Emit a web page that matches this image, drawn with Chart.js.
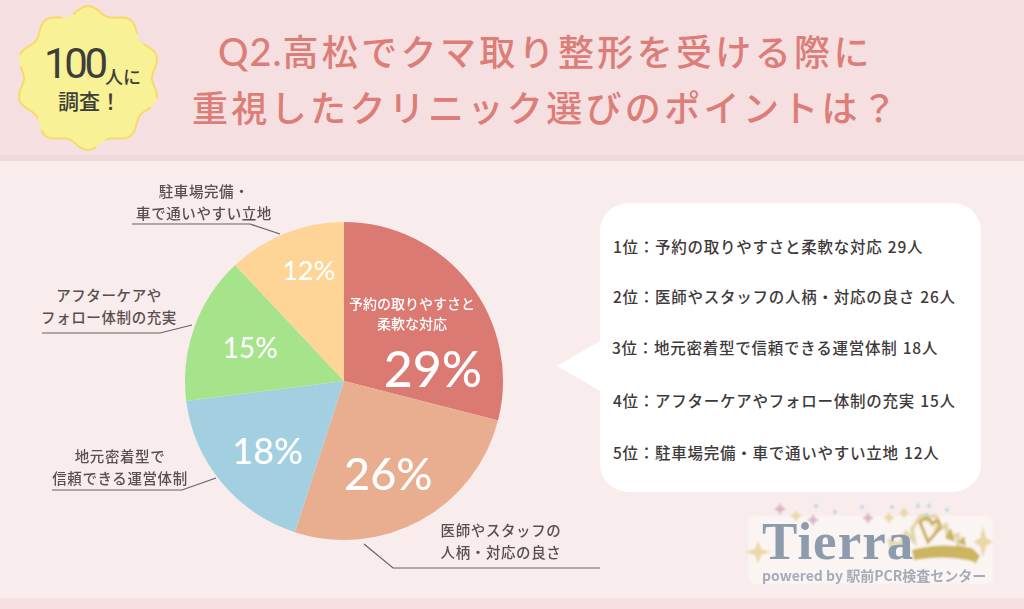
<!DOCTYPE html>
<html lang="ja">
<head>
<meta charset="utf-8">
<script src="https://cdn.jsdelivr.net/npm/chart.js@4"></script>
<style>
  html, body { margin: 0; padding: 0; }
  body { width: 1024px; height: 609px; position: relative; overflow: hidden; background: #f8ecec;
    font-family: "Noto Sans CJK JP", "Noto Sans", sans-serif; color: #5a4f4f; }
  .abs { position: absolute; }
  #header { left: 0; top: 0; width: 1024px; height: 155px; background: #f5dfe0; border-bottom: 6px solid #efd9da; }
  #footer { left: 0; top: 598px; width: 1024px; height: 11px; background: #f5dfe0; }
  .title { color: #dc7d78; font-size: 36px; font-weight: 500; letter-spacing: 3.35px; white-space: nowrap; line-height: 1; }
  .title span { letter-spacing: 1px; font-family: "Lato", sans-serif; font-size: 38px; }
  #chartWrap { left: 184px; top: 221px; width: 320px; height: 320px; }
  #bubble { left: 600px; top: 203px; width: 381px; height: 289px; background: #fff; border-radius: 28px; }
  .rank { color: #3f3a3a; font-size: 15.5px; font-weight: 500; white-space: nowrap; line-height: 1; letter-spacing: 0.75px; word-spacing: 1px; }
  .note { font-size: 14.5px; font-weight: 500; line-height: 21.5px; text-align: center; white-space: nowrap; color: #5a4f4f; transform: translateX(-50%); letter-spacing: 0.6px; }
</style>
</head>
<body>
<div id="header" class="abs"></div>
<div id="footer" class="abs"></div>

<svg class="abs" style="left:0;top:0" width="1024" height="609" id="deco">
  <defs><filter id="soft"><feGaussianBlur stdDeviation="0.8"/></filter></defs>
  <path id="badgeFill" fill="#f8f195"/>
  <path id="badgeLine" fill="none" stroke="#f6da6b" stroke-width="2" stroke-dasharray="62 12"/>
  <polygon points="557,366 602,340 602,392" fill="#fff"/>
  <g fill="none" stroke="#6b6060" stroke-width="1.2">
    <polyline points="132,224 250,224 280,234"/>
    <polyline points="42,333 160,333 192,325"/>
    <polyline points="52,490 182,490 216,478"/>
    <polyline points="364,544 393,568 600,568"/>
  </g>
  <g filter="url(#soft)">
    <rect x="748" y="516" width="245" height="68" rx="6" fill="#faf5f3"/>
    <path d="M758 540 l3 9 l10 3 l-10 3 l-3 9 l-3 -9 l-10 -3 l10 -3z" fill="#ecd8a4"/>
    <path d="M983 526 l3 12 l7 4 l-7 4 l-3 12 l-3 -12 l-7 -4 l7 -4z" fill="#ead7a6"/>
    <path d="M893 553 l-3 -12 l10 4 l6 -12 l8 8 l-2 -12 l8 -12 q8 -4 8 2 q6 -6 10 0 l-2 12 l10 -6 l2 12 l10 -2 l0 10 l10 6 l8 12" fill="none" stroke="#e3d6ab" stroke-width="4"/>
    <path d="M912 550 q28 -8 60 -2 l8 8 l-4 6 q-30 -8 -62 -2z" fill="#cdb45f"/>
    <path d="M920 522 q8 -8 12 2 q8 -8 8 4 l-12 14z" fill="none" stroke="#c9ad55" stroke-width="3"/>
    <path d="M945 538 l6 -10 l4 14z M958 542 l6 -6 l2 10z" fill="#cdb45f"/>
    <path d="M780 503 l2 4 l4 2 l-4 2 l-2 4 l-2 -4 l-4 -2 l4 -2z" fill="#dcb4c4"/>
    <path d="M813 514 l2 4 l4 2 l-4 2 l-2 4 l-2 -4 l-4 -2 l4 -2z" fill="#dcb4c4"/>
    <path d="M868 512 l2 4 l4 2 l-4 2 l-2 4 l-2 -4 l-4 -2 l4 -2z" fill="#dcb4c4"/>
    <path d="M796 510 l2 4 l4 2 l-4 2 l-2 4 l-2 -4 l-4 -2 l4 -2z" fill="#ead7a6"/>
    <path d="M889 512 l2 4 l4 2 l-4 2 l-2 4 l-2 -4 l-4 -2 l4 -2z" fill="#ead7a6"/>
    <path d="M904 507 l2 4 l4 2 l-4 2 l-2 4 l-2 -4 l-4 -2 l4 -2z" fill="#ead7a6"/>
    <circle cx="816" cy="506" r="1.8" fill="#a9d3e4"/><circle cx="835" cy="512" r="1.8" fill="#a9d3e4"/>
    <circle cx="862" cy="507" r="1.8" fill="#a9d3e4"/><circle cx="892" cy="507" r="1.8" fill="#a9d3e4"/>
    <circle cx="918" cy="506" r="1.8" fill="#a9d3e4"/><circle cx="929" cy="506" r="1.8" fill="#a9d3e4"/>
    <circle cx="947" cy="510" r="1.8" fill="#a9d3e4"/><circle cx="927" cy="515" r="1.8" fill="#a9d3e4"/>
  </g>
</svg>

<div class="abs" style="left:44px;top:44px;font-family:Roboto,sans-serif;font-size:42px;font-weight:400;color:#3d3d3a;letter-spacing:-3.4px;line-height:40px;height:40px;white-space:nowrap">100</div>
<div class="abs" style="left:105px;top:67px;font-size:18px;font-weight:500;color:#3d3d3a;line-height:18px;height:18px;white-space:nowrap">人に</div>
<div class="abs" style="left:58px;top:89px;font-size:21px;font-weight:500;color:#3d3d3a;line-height:22px;height:22px;white-space:nowrap">調査！</div>

<div class="abs title" style="left:218px;top:32px"><span>Q2.</span>高松でクマ取り整形を受ける際に</div>
<div class="abs title" style="left:192px;top:88px">重視したクリニック選びのポイントは？</div>

<div id="chartWrap" class="abs"><canvas id="pie" width="320" height="320"></canvas></div>
<div id="bubble" class="abs"></div>
<div id="ranks"></div>

<div class="abs note" style="left:204px;top:180px">駐車場完備・<br>車で通いやすい立地</div>
<div class="abs note" style="left:109px;top:284px">アフターケアや<br>フォロー体制の充実</div>
<div class="abs note" style="left:120px;top:445px">地元密着型で<br>信頼できる運営体制</div>
<div class="abs note" style="left:501px;top:519px">医師やスタッフの<br>人柄・対応の良さ</div>

<div class="abs" style="left:762px;top:519px;height:44px;font-family:'Liberation Serif',serif;font-weight:700;font-size:53px;line-height:44px;color:#8d9cad;letter-spacing:1px;filter:blur(0.5px)">Tierra</div>
<div class="abs" style="left:762px;top:568px;font-size:14px;font-weight:700;line-height:14px;height:14px;color:#a4acb8;white-space:nowrap;filter:blur(0.5px)">powered by 駅前PCR検査センター</div>

<script>
const categories = ["予約の取りやすさと柔軟な対応", "医師やスタッフの人柄・対応の良さ", "地元密着型で信頼できる運営体制", "アフターケアやフォロー体制の充実", "駐車場完備・車で通いやすい立地"];
const values = [29, 26, 18, 15, 12];
const sliceColors = ["#db7a73", "#e9ae90", "#a3d0e0", "#a6e48c", "#fed497"];
const rankTops = [239, 289, 340, 393, 445];
const rankLefts = [613, 613, 612, 613, 613];

// 吹き出しの順位リスト
rankTops.forEach((top, i) => {
  const row = document.createElement("div");
  row.className = "abs rank";
  row.style.left = rankLefts[i] + "px";
  row.style.top = top + "px";
  row.textContent = `${i + 1}位：${categories[i]} ${values[i]}人`;
  document.getElementById("ranks").appendChild(row);
});

// バッジの波形
let wavy = "";
for (let a = 0; a <= 360; a += 3) {
  const rad = a * Math.PI / 180;
  const r = 68 + 4 * Math.cos(rad * 10);
  wavy += (a ? "L" : "M") + (88 + r * Math.sin(rad)).toFixed(1) + " " + (78 - r * Math.cos(rad)).toFixed(1);
}
document.getElementById("badgeFill").setAttribute("d", wavy + "Z");
document.getElementById("badgeLine").setAttribute("d", wavy + "Z");

const percentStyles = [
  { dx: 26, dy: 39, size: 50 },
  { dx: 6, dy: 25, size: 45 },
  { dx: -15, dy: 21, size: 36 },
  { dx: -19, dy: -5, size: 28 },
  { dx: -6, dy: -36, size: 27 }
];

const percentLabels = {
  id: "percentLabels",
  afterDatasetsDraw(chart) {
    const { ctx } = chart;
    const arcs = chart.getDatasetMeta(0).data;
    ctx.save();
    ctx.fillStyle = "#fff";
    ctx.textAlign = "center";
    ctx.textBaseline = "middle";
    arcs.forEach((arc, i) => {
      const pos = arc.tooltipPosition();
      const s = percentStyles[i];
      ctx.font = `500 ${s.size}px "Lato", sans-serif`;
      ctx.fillText(values[i] + "%", pos.x + s.dx, pos.y + s.dy);
    });
    // 1位だけスライス内に項目名
    ctx.font = `500 14px "Noto Sans CJK JP", sans-serif`;
    ctx.fillText("予約の取りやすさと", 228, 83);
    ctx.fillText("柔軟な対応", 228, 103);
    ctx.restore();
  }
};

new Chart(document.getElementById("pie"), {
  type: "pie",
  data: {
    labels: categories,
    datasets: [{ data: values, backgroundColor: sliceColors, borderWidth: 0 }]
  },
  options: {
    responsive: false,
    animation: false,
    radius: 159,
    layout: { padding: 0 },
    plugins: { legend: { display: false }, tooltip: { enabled: false } }
  },
  plugins: [percentLabels]
});
</script>
</body>
</html>
